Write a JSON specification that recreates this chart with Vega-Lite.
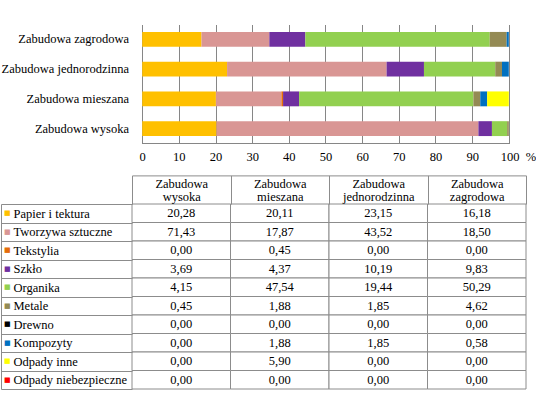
{
  "$schema": "https://vega.github.io/schema/vega-lite/v6.json",
  "background": "white",
  "padding": {"top": 24.5, "left": 0, "right": 0, "bottom": 0},
  "config": {
    "view": {"stroke": null},
    "font": "Liberation Serif",
    "locale": {"number": {"decimal": ",", "thousands": "\u00a0", "grouping": [3], "currency": ["", " zł"]}}
  },
  "datasets": {
    "d": [
      {"zab": "Zabudowa wysoka", "mat": "Papier i tektura", "id": 1, "val": 20.28},
      {"zab": "Zabudowa wysoka", "mat": "Tworzywa sztuczne", "id": 2, "val": 71.43},
      {"zab": "Zabudowa wysoka", "mat": "Tekstylia", "id": 3, "val": 0},
      {"zab": "Zabudowa wysoka", "mat": "Szkło", "id": 4, "val": 3.69},
      {"zab": "Zabudowa wysoka", "mat": "Organika", "id": 5, "val": 4.15},
      {"zab": "Zabudowa wysoka", "mat": "Metale", "id": 6, "val": 0.45},
      {"zab": "Zabudowa wysoka", "mat": "Drewno", "id": 7, "val": 0},
      {"zab": "Zabudowa wysoka", "mat": "Kompozyty", "id": 8, "val": 0},
      {"zab": "Zabudowa wysoka", "mat": "Odpady inne", "id": 9, "val": 0},
      {"zab": "Zabudowa wysoka", "mat": "Odpady niebezpieczne", "id": 10, "val": 0},
      {"zab": "Zabudowa mieszana", "mat": "Papier i tektura", "id": 1, "val": 20.11},
      {"zab": "Zabudowa mieszana", "mat": "Tworzywa sztuczne", "id": 2, "val": 17.87},
      {"zab": "Zabudowa mieszana", "mat": "Tekstylia", "id": 3, "val": 0.45},
      {"zab": "Zabudowa mieszana", "mat": "Szkło", "id": 4, "val": 4.37},
      {"zab": "Zabudowa mieszana", "mat": "Organika", "id": 5, "val": 47.54},
      {"zab": "Zabudowa mieszana", "mat": "Metale", "id": 6, "val": 1.88},
      {"zab": "Zabudowa mieszana", "mat": "Drewno", "id": 7, "val": 0},
      {"zab": "Zabudowa mieszana", "mat": "Kompozyty", "id": 8, "val": 1.88},
      {"zab": "Zabudowa mieszana", "mat": "Odpady inne", "id": 9, "val": 5.90},
      {"zab": "Zabudowa mieszana", "mat": "Odpady niebezpieczne", "id": 10, "val": 0},
      {"zab": "Zabudowa jednorodzinna", "mat": "Papier i tektura", "id": 1, "val": 23.15},
      {"zab": "Zabudowa jednorodzinna", "mat": "Tworzywa sztuczne", "id": 2, "val": 43.52},
      {"zab": "Zabudowa jednorodzinna", "mat": "Tekstylia", "id": 3, "val": 0},
      {"zab": "Zabudowa jednorodzinna", "mat": "Szkło", "id": 4, "val": 10.19},
      {"zab": "Zabudowa jednorodzinna", "mat": "Organika", "id": 5, "val": 19.44},
      {"zab": "Zabudowa jednorodzinna", "mat": "Metale", "id": 6, "val": 1.85},
      {"zab": "Zabudowa jednorodzinna", "mat": "Drewno", "id": 7, "val": 0},
      {"zab": "Zabudowa jednorodzinna", "mat": "Kompozyty", "id": 8, "val": 1.85},
      {"zab": "Zabudowa jednorodzinna", "mat": "Odpady inne", "id": 9, "val": 0},
      {"zab": "Zabudowa jednorodzinna", "mat": "Odpady niebezpieczne", "id": 10, "val": 0},
      {"zab": "Zabudowa zagrodowa", "mat": "Papier i tektura", "id": 1, "val": 16.18},
      {"zab": "Zabudowa zagrodowa", "mat": "Tworzywa sztuczne", "id": 2, "val": 18.50},
      {"zab": "Zabudowa zagrodowa", "mat": "Tekstylia", "id": 3, "val": 0},
      {"zab": "Zabudowa zagrodowa", "mat": "Szkło", "id": 4, "val": 9.83},
      {"zab": "Zabudowa zagrodowa", "mat": "Organika", "id": 5, "val": 50.29},
      {"zab": "Zabudowa zagrodowa", "mat": "Metale", "id": 6, "val": 4.62},
      {"zab": "Zabudowa zagrodowa", "mat": "Drewno", "id": 7, "val": 0},
      {"zab": "Zabudowa zagrodowa", "mat": "Kompozyty", "id": 8, "val": 0.58},
      {"zab": "Zabudowa zagrodowa", "mat": "Odpady inne", "id": 9, "val": 0},
      {"zab": "Zabudowa zagrodowa", "mat": "Odpady niebezpieczne", "id": 10, "val": 0}
    ]
  },
  "columns": 1,
  "align": "none",
  "spacing": 10.5,
  "concat": [
    {
      "width": 376.8,
      "height": 119,
      "data": {"name": "d"},
      "layer": [
        {
          "mark": {"type": "bar"},
          "encoding": {
            "y": {
              "field": "zab", "type": "nominal",
              "sort": ["Zabudowa zagrodowa", "Zabudowa jednorodzinna", "Zabudowa mieszana", "Zabudowa wysoka"],
              "scale": {"paddingInner": 0.5, "paddingOuter": 0.25},
              "axis": {"title": null, "ticks": false, "domain": false, "labelPadding": 3.5, "labelFont": "Liberation Serif", "labelFontSize": 12.5, "labelColor": "black", "labelLimit": 0}
            },
            "x": {
              "field": "val", "type": "quantitative", "stack": "zero",
              "scale": {"domain": [-2.78, 100], "nice": false, "zero": false},
              "axis": {
                "title": null, "values": [0, 10, 20, 30, 40, 50, 60, 70, 80, 90, 100],
                "ticks": false, "domain": false, "grid": true, "gridColor": "#868686",
                "labelFlush": false, "labelOverlap": false, "labelBound": false, "labelPadding": 7,
                "labelFont": "Liberation Serif", "labelFontSize": 12.5, "labelColor": "black", "minExtent": 20,
                "labelExpr": "datum.value == 100 ? '100\u00a0\u00a0%' : datum.label",
                "labelAlign": {"condition": {"test": "datum.value == 100", "value": "left"}, "value": "center"},
                "labelOffset": {"condition": {"test": "datum.value == 100", "value": -8.5}, "value": 0}
              }
            },
            "color": {
              "field": "mat", "type": "nominal",
              "scale": {
                "domain": ["Papier i tektura", "Tworzywa sztuczne", "Tekstylia", "Szkło", "Organika", "Metale", "Drewno", "Kompozyty", "Odpady inne", "Odpady niebezpieczne"],
                "range": ["#FFC000", "#D99694", "#E46C0A", "#7030A0", "#92D050", "#948A54", "#000000", "#0070C0", "#FFFF00", "#FF0000"]
              },
              "legend": null
            },
            "order": {"field": "id", "type": "quantitative"}
          }
        },
        {
          "mark": {"type": "rule", "color": "#868686", "strokeWidth": 1},
          "encoding": {
            "x": {
              "datum": 0, "type": "quantitative",
              "axis": {
                "title": null, "values": [0, 10, 20, 30, 40, 50, 60, 70, 80, 90, 100],
                "ticks": false, "domain": false, "grid": true, "gridColor": "#868686",
                "labelFlush": false, "labelOverlap": false, "labelBound": false, "labelPadding": 7,
                "labelFont": "Liberation Serif", "labelFontSize": 12.5, "labelColor": "black", "minExtent": 20,
                "labelExpr": "datum.value == 100 ? '100\u00a0\u00a0%' : datum.label",
                "labelAlign": {"condition": {"test": "datum.value == 100", "value": "left"}, "value": "center"},
                "labelOffset": {"condition": {"test": "datum.value == 100", "value": -8.5}, "value": 0}
              }
            },
            "x2": {"datum": 100},
            "y": {"value": "height"}
          }
        }
      ]
    },
    {
      "width": 394,
      "height": 185,
      "data": {"name": "d"},
      "layer": [
        {
          "mark": {"type": "rect", "fill": "white", "stroke": "#8c8c8c", "strokeWidth": 1},
          "encoding": {
            "x": {
              "field": "zab", "type": "nominal",
              "sort": ["Zabudowa wysoka", "Zabudowa mieszana", "Zabudowa jednorodzinna", "Zabudowa zagrodowa"],
              "scale": {"paddingInner": 0, "paddingOuter": 0},
              "axis": {"orient": "top", "title": null, "domain": false, "ticks": true, "tickSize": 28.6, "tickBand": "extent", "tickColor": "#8c8c8c", "tickWidth": 1,
                       "labelExpr": "split(datum.label, ' ')", "labelAngle": 0, "labelAlign": "center", "labelBaseline": "middle", "labelLineHeight": 12.5, "labelPadding": -8.3,
                       "labelFont": "Liberation Serif", "labelFontSize": 12.5, "labelColor": "black", "labelLimit": 0}
            },
            "y": {
              "field": "mat", "type": "nominal",
              "sort": ["Papier i tektura", "Tworzywa sztuczne", "Tekstylia", "Szkło", "Organika", "Metale", "Drewno", "Kompozyty", "Odpady inne", "Odpady niebezpieczne"],
              "scale": {"paddingInner": 0, "paddingOuter": 0},
              "axis": {"orient": "left", "title": null, "domain": false, "ticks": true, "tickSize": 131, "tickBand": "extent", "tickColor": "#8c8c8c", "tickWidth": 1,
                       "labelAlign": "left", "labelBaseline": "middle", "labelPadding": -12, "labelFont": "Liberation Serif", "labelFontSize": 12.5, "labelColor": "black", "labelLimit": 0}
            }
          }
        },
        {
          "mark": {"type": "text", "font": "Liberation Serif", "fontSize": 12.5, "color": "black", "baseline": "middle"},
          "encoding": {
            "x": {
              "field": "zab", "type": "nominal",
              "sort": ["Zabudowa wysoka", "Zabudowa mieszana", "Zabudowa jednorodzinna", "Zabudowa zagrodowa"],
              "axis": {"orient": "top", "offset": 28.6, "title": null, "domain": true, "domainColor": "#8c8c8c", "ticks": false, "labels": false, "grid": false}
            },
            "y": {"field": "mat", "type": "nominal", "sort": ["Papier i tektura", "Tworzywa sztuczne", "Tekstylia", "Szkło", "Organika", "Metale", "Drewno", "Kompozyty", "Odpady inne", "Odpady niebezpieczne"], "axis": null},
            "text": {"field": "val", "type": "quantitative", "format": ".2f"}
          }
        },
        {
          "mark": {"type": "text", "text": ""},
          "encoding": {
            "y": {
              "field": "mat", "type": "nominal",
              "sort": ["Papier i tektura", "Tworzywa sztuczne", "Tekstylia", "Szkło", "Organika", "Metale", "Drewno", "Kompozyty", "Odpady inne", "Odpady niebezpieczne"],
              "axis": {"orient": "left", "offset": 131, "title": null, "domain": true, "domainColor": "#8c8c8c", "ticks": false,
                       "labelExpr": "'■'", "labelAlign": "left", "labelBaseline": "middle", "labelPadding": -2.5, "labelFont": "DejaVu Sans", "labelFontSize": 7,
                       "labelColor": {"expr": "datum.value === 'Papier i tektura' ? '#FFC000' : datum.value === 'Tworzywa sztuczne' ? '#D99694' : datum.value === 'Tekstylia' ? '#E46C0A' : datum.value === 'Szkło' ? '#7030A0' : datum.value === 'Organika' ? '#92D050' : datum.value === 'Metale' ? '#948A54' : datum.value === 'Drewno' ? '#000000' : datum.value === 'Kompozyty' ? '#0070C0' : datum.value === 'Odpady inne' ? '#FFFF00' : '#FF0000'"}}
            }
          }
        }
      ],
      "resolve": {"axis": {"y": "independent", "x": "independent"}}
    }
  ]
}
